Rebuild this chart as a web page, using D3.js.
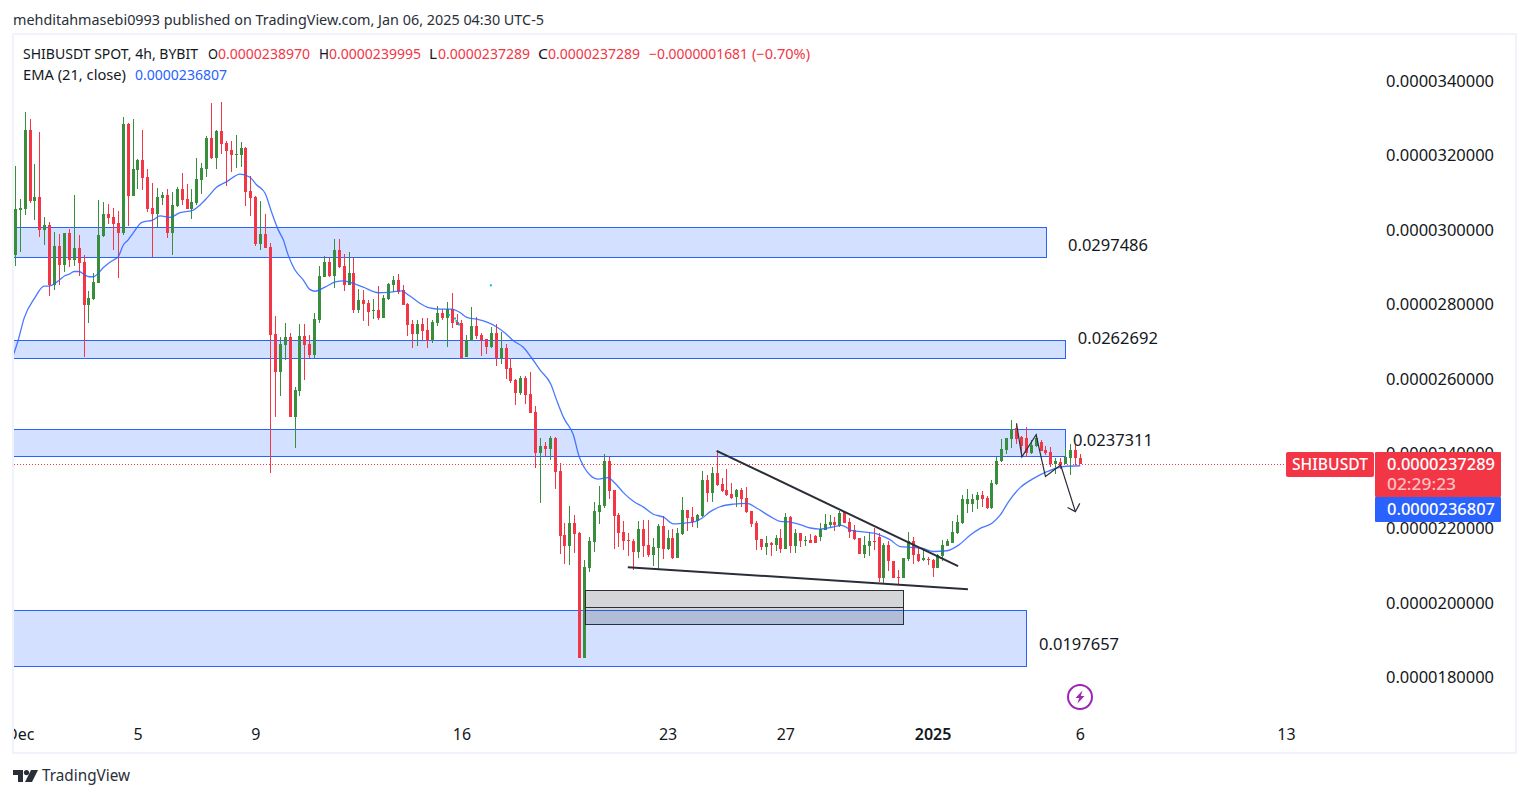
<!DOCTYPE html>
<html><head><meta charset="utf-8">
<script src="https://cdn.jsdelivr.net/npm/d3@7/dist/d3.min.js"></script>
<style>
html,body{margin:0;padding:0;background:#fff;overflow:hidden}
svg{display:block}
text{font-family:"Noto Sans",sans-serif}
</style></head><body>
<svg id="c" width="1529" height="798"></svg>
<script>
// all prices are in units of 1e-7 USDT
const opens=[293.3,305.4,305.7,326.9,307.8,308.9,300.0,301.4,285.3,295.8,290.7,299.2,292.0,295.2,291.5,279.9,281.5,285.8,298.4,304.3,303.5,301.9,299.2,328.5,309.2,316.1,318.8,314.3,305.9,304.3,308.6,309.4,299.2,306.5,311.0,308.4,305.7,307.3,313.5,316.4,324.7,319.4,326.6,323.4,321.5,320.2,320.2,322.0,310.5,308.9,296.3,299.0,295.5,272.2,262.0,269.2,
271.3,249.9,256.9,271.6,269.5,266.5,275.9,287.4,291.5,287.7,294.7,290.4,285.3,288.5,278.6,281.3,280.5,278.3,278.6,276.4,281.5,285.3,286.6,283.9,280.2,274.8,272.1,274.8,273.2,270.3,275.1,277.8,276.4,278.8,275.4,275.1,266.0,270.3,274.3,271.9,270.8,268.6,272.4,265.7,268.4,263.0,259.8,256.3,260.3,256.0,251.2,240.2,242.1,241.3,
244.3,235.4,218.2,215.3,221.5,218.8,185.3,209.4,216.4,224.4,226.0,238.1,230.3,223.6,219.0,216.9,216.6,213.7,219.8,215.6,212.9,214.7,220.7,214.5,217.4,212.1,218.5,224.9,223.1,222.0,223.3,233.0,229.5,234.9,231.9,230.3,229.2,228.4,230.3,228.2,224.7,221.5,217.2,215.0,216.1,215.6,217.4,214.5,223.1,215.3,
218.8,216.6,216.9,218.0,217.7,219.6,220.9,221.7,220.7,224.4,221.7,219.6,217.4,213.1,215.3,216.6,217.7,206.7,215.5,211.3,207.0,206.7,211.8,216.6,213.1,211.5,211.8,211.5,209.4,212.6,215.3,216.1,218.8,221.5,226.6,226.6,227.6,229.0,228.2,225.5,231.9,238.1,241.0,244.0,246.9,244.5,244.3,240.2,242.1,243.2,241.0,240.5,237.3,237.8,237.3,238.9,241.0,238.97];
const highs=[317.2,308.4,331.7,329.8,317.7,326.3,303.5,302.2,299.5,299.0,299.2,300.3,309.4,298.7,293.3,283.7,288.5,308.1,307.6,307.0,305.9,305.1,330.4,328.7,329.8,319.1,326.9,316.4,312.7,311.3,310.2,311.0,310.2,311.6,315.3,312.4,311.0,319.4,318.0,325.3,334.1,326.9,334.4,323.9,323.9,325.5,323.7,322.3,314.5,309.2,307.8,304.3,296.6,277.0,271.3,275.1,
272.4,257.9,274.8,274.8,271.9,277.8,290.4,293.1,292.5,297.6,297.6,293.6,294.1,292.5,284.2,283.9,281.3,281.5,285.0,282.6,285.8,287.7,288.2,285.3,280.5,275.9,275.9,276.4,276.4,275.9,279.6,278.8,280.7,283.1,277.5,275.9,271.9,279.4,276.7,272.4,270.8,274.0,274.8,272.7,269.5,265.7,260.1,260.9,260.9,261.9,252.8,244.3,243.2,244.8,
244.5,237.5,221.5,226.0,223.6,219.0,211.5,217.7,227.1,231.4,240.0,239.2,230.3,224.1,222.0,218.8,217.2,222.0,222.3,222.3,217.4,221.2,223.3,219.6,219.8,220.1,228.4,224.9,225.7,223.9,235.4,234.3,236.5,240.8,233.5,235.9,232.2,230.6,230.8,231.1,224.7,222.0,217.2,218.0,216.4,218.2,219.8,224.1,223.3,219.8,
218.8,218.0,218.5,218.2,221.5,223.9,223.6,223.1,224.7,224.7,222.8,220.9,217.4,218.0,219.0,220.1,218.8,216.1,216.6,211.3,208.8,212.1,219.0,217.7,214.7,214.5,212.3,211.8,213.1,216.9,217.2,222.0,223.6,229.0,230.6,229.2,229.8,230.0,228.7,233.0,239.2,244.0,244.3,249.1,248.0,244.8,247.2,243.7,245.3,243.7,242.1,241.8,238.9,238.9,241.6,242.6,242.6,239.995];
const lows=[290.4,294.1,304.1,307.3,302.7,298.2,296.0,282.3,283.9,285.3,288.8,290.1,290.4,287.7,266.0,275.1,281.3,285.8,298.2,301.6,294.7,287.2,298.7,301.1,309.2,311.0,310.8,304.9,292.8,300.8,306.7,297.9,293.3,306.2,306.7,305.7,303.0,306.7,309.7,314.3,319.1,316.4,320.4,311.8,315.6,316.7,316.9,306.5,303.8,295.7,294.7,295.2,234.9,249.9,255.5,265.2,
249.9,241.6,255.5,259.8,265.7,265.7,275.1,287.4,287.4,284.5,289.8,283.7,285.3,277.8,277.8,275.6,274.3,276.2,275.9,276.4,281.3,283.4,282.9,279.9,271.6,268.4,268.9,270.5,268.4,269.7,274.3,275.9,268.6,273.8,274.6,265.4,266.0,270.3,270.8,266.2,266.8,268.4,263.6,264.1,260.1,259.0,253.1,255.8,253.4,251.0,236.2,226.8,239.4,238.4,
230.6,213.1,210.5,210.2,213.4,185.3,185.3,208.3,213.7,221.2,225.5,227.9,214.5,215.0,214.2,212.6,208.8,212.1,212.3,212.3,209.9,209.1,211.8,214.2,211.8,212.1,218.2,219.3,220.4,220.1,223.1,227.1,227.1,231.4,229.8,228.7,227.9,225.7,225.7,224.1,220.4,214.2,214.2,212.9,212.6,214.0,213.4,214.5,213.4,213.4,
215.0,215.3,216.1,216.1,216.6,219.6,220.4,219.3,220.4,221.5,217.4,216.9,213.1,212.1,212.6,214.2,205.6,205.4,208.6,206.7,205.1,206.7,211.3,210.5,211.0,211.3,210.2,207.0,209.4,211.3,215.3,216.1,218.5,221.2,224.1,224.4,225.2,225.7,225.2,225.2,231.6,237.8,240.0,241.6,242.6,239.7,239.2,240.0,241.8,240.8,239.7,236.5,234.6,236.0,237.3,234.3,237.0,237.289];
const closes=[305.7,305.9,326.9,307.8,308.9,300.0,301.4,285.3,295.8,290.7,299.2,292.0,295.2,291.2,279.9,281.8,286.1,298.7,304.3,303.3,301.6,299.2,328.5,309.2,316.4,318.8,314.0,305.7,304.3,308.9,309.4,299.2,306.7,311.0,308.1,305.7,307.6,313.7,316.7,324.7,319.4,326.6,323.1,321.2,320.2,320.4,322.0,310.2,308.6,296.3,299.0,295.2,271.9,262.0,269.5,271.3,
249.9,257.1,271.6,269.2,266.5,276.2,287.7,291.5,287.7,294.7,290.1,285.3,288.5,278.6,281.3,280.2,278.0,278.6,276.4,281.8,285.6,286.6,283.4,279.9,274.6,272.1,274.8,272.9,270.3,275.4,277.8,276.4,278.8,275.1,274.6,265.7,270.5,274.3,271.6,270.5,268.6,272.4,265.7,268.4,262.8,259.5,256.3,260.3,255.8,251.0,240.2,242.1,241.3,244.3,
235.1,218.0,215.3,221.5,218.5,185.3,209.7,216.6,224.7,226.3,238.1,230.0,223.3,218.8,216.6,216.6,213.7,219.8,215.3,212.9,215.0,220.7,214.5,217.4,212.1,218.8,224.9,222.8,221.7,223.6,233.0,229.5,234.9,231.6,230.0,229.0,228.2,230.3,227.9,224.4,221.2,216.9,215.0,216.1,215.6,217.4,214.5,223.1,215.3,218.8,
216.6,216.9,216.1,216.1,219.8,221.2,221.7,220.9,224.1,221.5,219.0,217.2,213.1,215.5,216.6,216.4,206.7,215.5,211.3,206.7,206.7,212.1,216.6,212.9,211.3,212.1,211.5,209.4,212.9,215.5,216.6,219.0,221.7,227.9,227.9,227.9,229.0,227.9,225.5,232.2,238.1,241.3,244.3,246.7,244.0,242.1,240.2,242.4,244.3,240.8,240.2,237.3,238.1,237.0,239.2,241.0,238.97,237.289];

const emaBars=[-0.4,0.6,1.8,3.9,5.9,6.9,9,10,11,12,13,14.1,15.1,15.9,16.9,17.9,19,20,21,22,23,24,25.8,28,29.5,31.5,33.6,36,37.6,39.3,41,43.1,45.8,47.8,49.2,50.9,52.2,53.6,54.6,55.6,56.9,58.7,60,61.1,63.1,65.2,66.9,68.9,70.9,74,76,78.8,80.1,82.2,84.2,86.6,88.9,90.6,92,94,96.1,98,99.9,101.5,103.5,105,106.9,109.1,110.3,111.8,113.7,114.9,115.9,117.1,118.8,120.7,122.2,123.9,126,128,130,132.1,134.1,136.1,138.5,139.9,141.6,143.6,146.4,149.1,151.1,153.8,155.8,157.9,159.9,162,164,166.4,168.4,170.5,173.2,174.9,176.2,178.3,180.3,182.3,184.7,187.1,189.8,192.2,194.6,196.6,199,200.7,202.4,204.8,207.5,210.2,213.6,217];
const emaValues=[266.5,270.5,276.4,281.7,285.0,285.0,286.6,287.7,288.2,288.9,288.9,288.0,287.5,287.5,288.4,289.9,291.1,292.0,292.9,296.0,297.4,299.2,302.1,302.7,303.8,303.4,304.7,305.2,306.7,309.0,311.5,313.0,315.0,314.2,312.1,309.9,304.9,300.0,297.4,293.3,289.5,286.6,284.1,283.6,284.7,286.1,286.4,285.7,284.7,283.2,283.3,283.7,282.6,280.6,279.2,278.8,278.8,277.9,276.6,276.1,275.3,274.1,272.3,270.3,268.6,266.1,262.5,258.7,254.4,249.5,245.1,239.2,236.4,234.3,233.2,233.6,232.1,229.6,227.2,225.7,223.8,223.0,221.2,221.4,221.8,222.7,224.5,225.8,226.5,226.7,225.4,223.2,221.9,221.7,221.0,220.1,219.8,220.3,220.8,219.4,219.0,218.7,218.2,216.9,215.1,214.9,214.7,213.8,214.0,215.5,218.2,220.0,221.4,223.6,227.2,231.0,233.4,235.2,236.6,236.8];

const zoneLefts=[-10,-10,-10,-10];
const zoneRights=[210,213.9,213.9,205.9];
const zoneTops=[300.8,270.5,246.6,198.1];
const zoneBottoms=[292.8,265.8,239.3,183.1];
const zoneLabels=["0.0297486","0.0262692","0.0237311","0.0197657"];
const zoneLabelBars=[214.5,216.5,215.5,208.6];
const zoneLabelPrices=[295.8,271.0,243.5,189.0];

const greyLefts=[116.1,116.1];
const greyRights=[180.9,180.9];
const greyTops=[203.5,198.9];
const greyBottoms=[198.9,194.3];

const trendA=[[142.9,240.8],[192.1,209.9]];
const trendB=[[124.8,209.6],[194.1,203.7]];
const zigzag=[[204,248.2],[205.1,239.2],[208,245.1],[209.9,233.9],[213,237.0],[216,224.5]];
const arrowHead=[[214.4,225.6],[216,224.5],[216.9,226.7]];
const cyanDots=[[96.9,285.2],[88.4,277.2],[89.6,276.3],[89.9,275.6],[90.4,274.7]];

const priceTicks=[340,320,300,280,260,240,220,200,180];
const priceTickLabels=["0.0000340000","0.0000320000","0.0000300000","0.0000280000","0.0000260000","0.0000240000","0.0000220000","0.0000200000","0.0000180000"];
const timeTicks=[1,25,49,91,133,157,187,217,259];
const timeLabels=["Dec","5","9","16","23","27","2025","6","13"];
const lastPrice=237.289, lastEma=236.807;

const svg=d3.select("#c");
const x=d3.scaleLinear().domain([0,217]).range([15.3,1080.3]);
const y=d3.scaleLinear().domain([180,340]).range([677.5,81]);
const UP="#388e3c",DOWN="#f23645",BLUE="#2962ff",INK="#131722",DARK="#2a2e39";
const nx=i=>Math.round(x(i)-.5);

// frame
svg.append("rect").attr("x",13).attr("y",34).attr("width",1503).attr("height",719).attr("fill","#fff").attr("stroke","#f0f3fa").attr("stroke-width",2);
const defs=svg.append("defs");
defs.append("clipPath").attr("id","pane").append("rect").attr("x",14).attr("y",35).attr("width",1501).attr("height",717);
const pane=svg.append("g").attr("clip-path","url(#pane)");

// axes (under the price labels)
const yAxis=d3.axisRight(y).tickValues(priceTicks).tickSize(0).tickPadding(0).tickFormat((d,i)=>priceTickLabels[i]);
const yg=svg.append("g").attr("transform","translate(1386,0)").call(yAxis);
yg.select(".domain").remove();
yg.selectAll("text").attr("font-size",16).attr("fill",INK).attr("textLength",108).attr("lengthAdjust","spacingAndGlyphs");

const xAxis=d3.axisBottom(x).tickValues(timeTicks).tickSize(0).tickPadding(0).tickFormat((d,i)=>timeLabels[i]);
const xg=pane.append("g").attr("transform","translate(-0.5,729)").call(xAxis);
xg.select(".domain").remove();
xg.selectAll("text").attr("font-size",16).attr("fill",INK).attr("font-weight",(d,i)=>timeLabels[i]==="2025"?600:400).attr("font-family",'"Noto Sans",sans-serif');

// zones
pane.selectAll(".zone").data(zoneRights).join("rect").attr("class","zone")
 .attr("x",(d,i)=>x(zoneLefts[i])).attr("width",(d,i)=>Math.round(x(d))+.5-x(zoneLefts[i]))
 .attr("y",(d,i)=>Math.round(y(zoneTops[i]))+.5).attr("height",(d,i)=>Math.round(y(zoneBottoms[i]))-Math.round(y(zoneTops[i])))
 .attr("fill","rgba(41,98,255,0.2)").attr("stroke",BLUE).attr("stroke-width",1);

// last price dotted line
pane.append("line").attr("x1",14).attr("x2",1375).attr("y1",Math.round(y(lastPrice))+.5).attr("y2",Math.round(y(lastPrice))+.5)
 .attr("stroke",DOWN).attr("stroke-dasharray","1 2").attr("stroke-width",1);

// candles
const idx=d3.range(opens.length);
const col=i=>closes[i]<opens[i]?DOWN:UP;
const wick=pane.append("g");
wick.selectAll("rect").data(idx).join("rect")
 .attr("x",i=>nx(i)).attr("width",1)
 .attr("y",i=>Math.round(y(highs[i]))).attr("height",i=>Math.round(y(lows[i]))-Math.round(y(highs[i]))).attr("fill",col);
const body=pane.append("g");
body.selectAll("rect").data(idx).join("rect")
 .attr("x",i=>nx(i)-1).attr("width",3)
 .attr("y",i=>Math.round(y(Math.max(opens[i],closes[i]))))
 .attr("height",i=>Math.max(1,Math.round(y(Math.min(opens[i],closes[i])))-Math.round(y(Math.max(opens[i],closes[i])))))
 .attr("fill",col);

// EMA
const emaLine=d3.line().x((d,i)=>x(d)).y((d,i)=>y(emaValues[i])).curve(d3.curveMonotoneX);
pane.append("path").attr("d",emaLine(emaBars)).attr("fill","none").attr("stroke",BLUE).attr("stroke-opacity",.85).attr("stroke-width",1.3);

// grey boxes
pane.selectAll(".grey").data(greyRights).join("rect").attr("class","grey")
 .attr("x",(d,i)=>Math.round(x(greyLefts[i]))+.5).attr("width",(d,i)=>Math.round(x(d)-x(greyLefts[i])))
 .attr("y",(d,i)=>Math.round(y(greyTops[i]))+.5).attr("height",(d,i)=>Math.round(y(greyBottoms[i]))-Math.round(y(greyTops[i])))
 .attr("fill","rgba(42,46,57,0.2)").attr("stroke",DARK).attr("stroke-width",1);

// trendlines
const ln=d3.line().x(d=>x(d[0])).y(d=>y(d[1]));
pane.append("path").attr("d",ln(trendA)).attr("fill","none").attr("stroke",DARK).attr("stroke-width",2);
pane.append("path").attr("d",ln(trendB)).attr("fill","none").attr("stroke",DARK).attr("stroke-width",2);
pane.append("path").attr("d",ln(zigzag)).attr("fill","none").attr("stroke",DARK).attr("stroke-width",1.2);
pane.append("path").attr("d",ln(arrowHead)).attr("fill","none").attr("stroke",DARK).attr("stroke-width",1.2);

// stray dots
pane.selectAll(".dot").data(cyanDots).join("rect").attr("class","dot")
 .attr("x",d=>x(d[0])-1).attr("y",d=>y(d[1])-1).attr("width",2).attr("height",2).attr("fill","#00bcd4");

// zone labels
svg.selectAll(".zl").data(zoneLabels).join("text").attr("class","zl")
 .attr("x",(d,i)=>x(zoneLabelBars[i])).attr("y",(d,i)=>y(zoneLabelPrices[i]))
 .attr("dy","0.35em").attr("font-size",16).attr("fill",INK)
 .attr("textLength",80).attr("lengthAdjust","spacingAndGlyphs").text(d=>d);

// bolt icon
const bolt=svg.append("g").attr("transform","translate(1080,697)");
bolt.append("circle").attr("r",12).attr("fill","#fff").attr("stroke","#9c27b0").attr("stroke-width",2);
bolt.append("path").attr("d","M2.5,-6.5 L-4.5,1 L-0.8,1 L-2.5,6.5 L4.5,-1 L0.8,-1 Z").attr("fill","#9c27b0");

// price labels
svg.append("rect").attr("x",1286).attr("y",452).attr("width",88).attr("height",25).attr("rx",2).attr("fill",DOWN);
svg.append("text").attr("x",1292).attr("y",464).attr("dy","0.35em").attr("fill","#fff").attr("font-size",16).attr("font-weight",500).attr("textLength",76).attr("lengthAdjust","spacingAndGlyphs").text("SHIBUSDT");
svg.append("rect").attr("x",1375).attr("y",452).attr("width",126).attr("height",45).attr("rx",1).attr("fill",DOWN);
svg.append("rect").attr("x",1375).attr("y",497).attr("width",126).attr("height",25).attr("rx",1).attr("fill",BLUE);
svg.append("text").attr("x",1387).attr("y",y(lastPrice)).attr("dy","0.35em").attr("fill","#fff").attr("font-size",16).attr("font-weight",500).attr("textLength",108).attr("lengthAdjust","spacingAndGlyphs").text("0.0000237289");
svg.append("text").attr("x",1387).attr("y",484.5).attr("dy","0.35em").attr("fill","#fff").attr("fill-opacity",.7).attr("font-size",16).attr("font-weight",500).attr("textLength",69).attr("lengthAdjust","spacingAndGlyphs").text("02:29:23");
svg.append("text").attr("x",1387).attr("y",509.5).attr("dy","0.35em").attr("fill","#fff").attr("font-size",16).attr("font-weight",500).attr("textLength",108).attr("lengthAdjust","spacingAndGlyphs").text("0.0000236807");

// legend and header
function t(str,xp,yp,w,fill,size){
 svg.append("text").attr("x",xp).attr("y",yp).attr("dy","0.35em").attr("fill",fill).attr("font-size",size||14)
  .attr("textLength",w).attr("lengthAdjust","spacingAndGlyphs").text(str);
}
t("mehditahmasebi0993 published on TradingView.com, Jan 06, 2025 04:30 UTC-5",13,20,531,DARK,14.5);
t("SHIBUSDT SPOT, 4h, BYBIT",23,54,175,INK);
t("O",208,54,10,INK);t("0.0000238970",218,54,92,DOWN);
t("H",319,54,10,INK);t("0.0000239995",329,54,92,DOWN);
t("L",429,54,8,INK);t("0.0000237289",438,54,92,DOWN);
t("C",538,54,10,INK);t("0.0000237289",548,54,92,DOWN);
t("\u22120.0000001681",649,54,99,DOWN);t("(\u22120.70%)",752,54,58,DOWN);
t("EMA (21, close)",23,75,103,INK);t("0.0000236807",135,75,92,BLUE);

// TradingView logo
const logo=svg.append("g").attr("transform","translate(13,770)").attr("fill",DARK);
logo.append("path").attr("d","M0,0 H10 V12 H5 V5 H0 Z");
logo.append("circle").attr("cx",13.5).attr("cy",2.6).attr("r",2.6);
logo.append("path").attr("d","M18,0 H25 L19,12 H12 Z");
t("TradingView",42,776,88,DARK,15.5);
</script>
</body></html>
